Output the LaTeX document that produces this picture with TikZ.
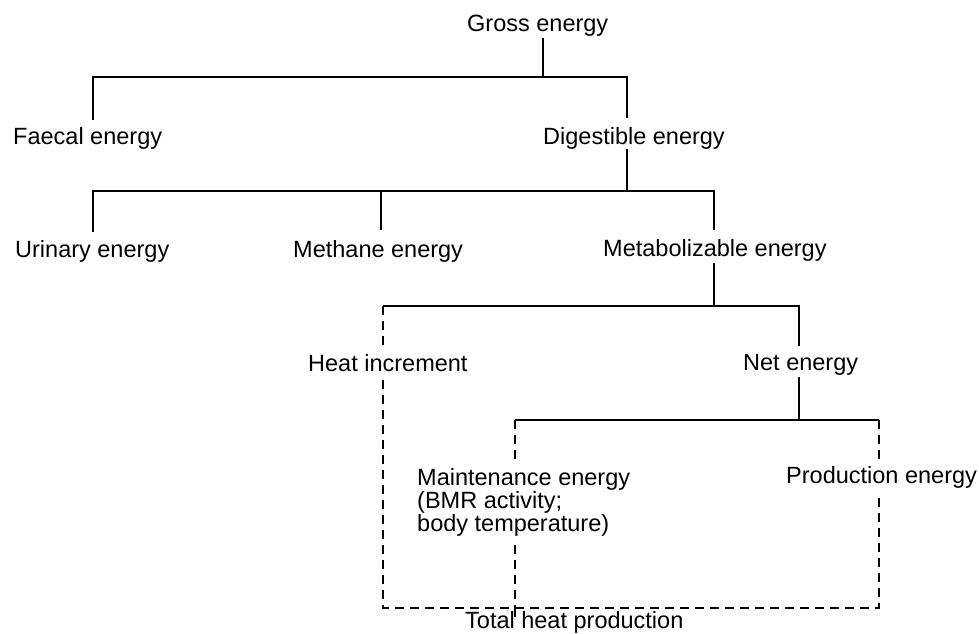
\documentclass[tikz,border=0pt]{standalone}
\usepackage{fontspec}
\setmainfont{Liberation Sans}
\begin{document}
\begin{tikzpicture}[x=1pt, y=-1pt,
  lbl/.style={anchor=base west, inner sep=0pt, font=\fontsize{23.5}{20.5}\selectfont},
  link/.style={line width=2.5pt},
  heat/.style={line width=2.2pt, dash pattern=on 9pt off 6pt}]
\useasboundingbox (0,0) rectangle (979,633);

% energy fractions
\node[lbl] (gross)  at (467,31)  {Gross energy};
\node[lbl] (faecal) at (13,144)  {Faecal energy};
\node[lbl] (dig)    at (543,144) {Digestible energy};
\node[lbl] (urin)   at (15,257)  {Urinary energy};
\node[lbl] (meth)   at (293,257) {Methane energy};
\node[lbl] (metab)  at (603,256) {Metabolizable energy};
\node[lbl] (heatinc) at (308,371) {Heat increment};
\node[lbl] (net)    at (743,370) {Net energy};
\node[lbl, anchor=north west, align=left] (maint) at (417,468)
  {Maintenance energy\\(BMR activity;\\body temperature)};
\node[lbl] (prod)   at (786,483) {Production energy};
\node[lbl] (total)  at (465,628) {Total heat production};

% branch points
\coordinate (g0) at (543,38);  \coordinate (g1) at (543,77);
\coordinate (fa) at (93,77);   \coordinate (fb) at (93,120);
\coordinate (da) at (627,77);  \coordinate (db) at (627,118);
\coordinate (d0) at (627,149); \coordinate (d1) at (627,191);
\coordinate (ua) at (93,191);  \coordinate (ub) at (93,232);
\coordinate (ma) at (381,191); \coordinate (mb) at (381,230);
\coordinate (ea) at (714,191); \coordinate (eb) at (714,230);
\coordinate (e0) at (714,263); \coordinate (e1) at (714,306);
\coordinate (ha) at (383,306); \coordinate (hb) at (383,348);
\coordinate (hc) at (383,380); \coordinate (hd) at (383,608);
\coordinate (na) at (799,306); \coordinate (nb) at (799,346);
\coordinate (n0) at (799,377); \coordinate (n1) at (799,420);
\coordinate (ka) at (515,420); \coordinate (kb) at (515,462);
\coordinate (kc) at (515,545); \coordinate (kd) at (515,608);
\coordinate (ke) at (515,617);
\coordinate (pa) at (879,420); \coordinate (pb) at (879,460);
\coordinate (pc) at (879,497); \coordinate (pd) at (879,608);

% partition tree
\draw[link] (g0) -- (g1);
\draw[link] (fb) -- (fa) -- (da) -- (db);
\draw[link] (d0) -- (d1);
\draw[link] (ub) -- (ua) -- (ea) -- (eb);
\draw[link] (ma) -- (mb);
\draw[link] (e0) -- (e1);
\draw[link] (ha) -- (na) -- (nb);
\draw[link] (n0) -- (n1);
\draw[link] (ka) -- (pa);

% heat losses summed into total heat production
\draw[heat] (ha) -- (hb);
\draw[heat] (hc) -- (hd) -- (pd) -- (pc);
\draw[heat] (pa) -- (pb);
\draw[heat] (ka) -- (kb);
\draw[heat] (kc) -- (kd);
\draw[line width=1.8pt] (kd) -- (ke);
\end{tikzpicture}
\end{document}
